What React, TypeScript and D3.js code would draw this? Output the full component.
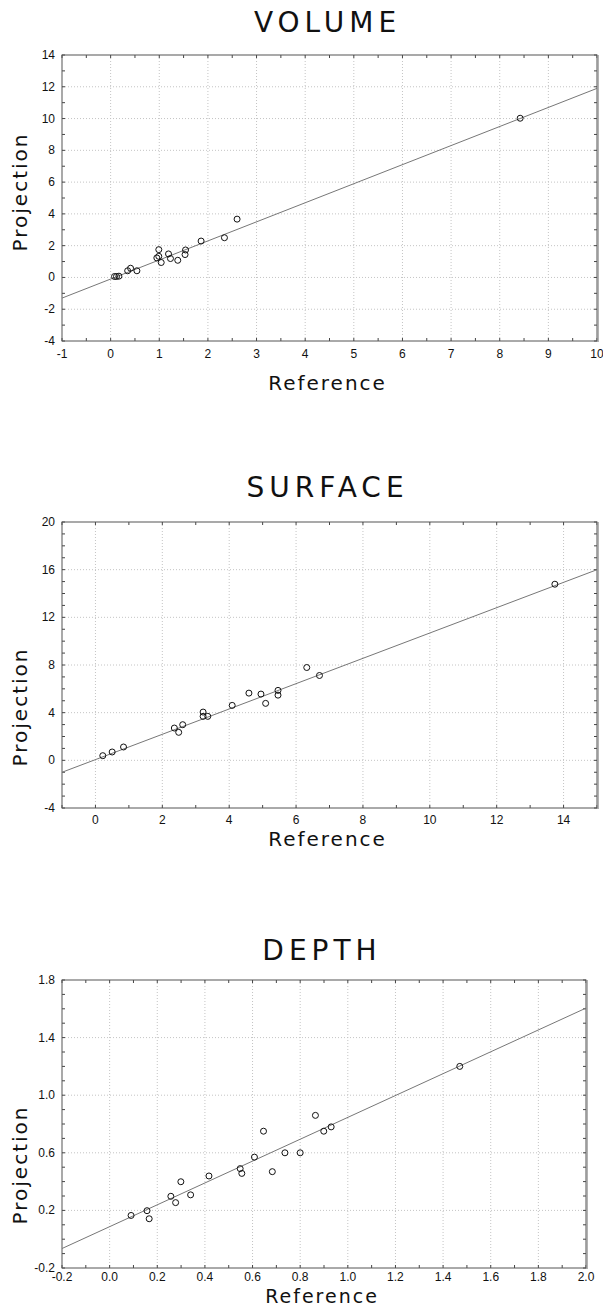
import React from "react";
import { scaleLinear, range, line } from "d3";

// VOLUME panel
const volumeReference = [0.08, 0.12, 0.17, 0.35, 0.41, 0.54, 0.99, 0.95, 0.99, 1.04, 1.19, 1.23, 1.38, 1.54, 1.53, 1.86, 2.34, 2.6, 8.42];
const volumeProjection = [0.06, 0.06, 0.08, 0.42, 0.58, 0.42, 1.75, 1.23, 1.33, 0.94, 1.48, 1.19, 1.08, 1.73, 1.44, 2.29, 2.5, 3.67, 10.02];
const volumeXTicks = [-1, 0, 1, 2, 3, 4, 5, 6, 7, 8, 9, 10];
const volumeYTicks = [-4, -2, 0, 2, 4, 6, 8, 10, 12, 14];
const volumeFit = [1.2, -0.1]; // slope, intercept

// SURFACE panel
const surfaceReference = [0.22, 0.5, 0.84, 2.36, 2.49, 2.61, 3.22, 3.22, 3.36, 4.09, 4.59, 4.95, 5.09, 5.46, 5.46, 6.32, 6.7, 13.74];
const surfaceProjection = [0.39, 0.7, 1.12, 2.71, 2.35, 2.99, 4.05, 3.69, 3.69, 4.61, 5.64, 5.56, 4.78, 5.87, 5.47, 7.79, 7.12, 14.78];
const surfaceXTicks = [0, 2, 4, 6, 8, 10, 12, 14];
const surfaceYTicks = [-4, 0, 4, 8, 12, 16, 20];
const surfaceFit = [1.0625, 0.06];

// DEPTH panel
const depthReference = [0.09, 0.157, 0.166, 0.257, 0.277, 0.299, 0.34, 0.417, 0.548, 0.555, 0.608, 0.646, 0.683, 0.736, 0.8, 0.864, 0.899, 0.93, 1.47];
const depthProjection = [0.165, 0.198, 0.142, 0.298, 0.254, 0.399, 0.308, 0.439, 0.49, 0.457, 0.57, 0.75, 0.469, 0.6, 0.6, 0.86, 0.75, 0.78, 1.2];
const depthXTicks = [-0.2, 0.0, 0.2, 0.4, 0.6, 0.8, 1.0, 1.2, 1.4, 1.6, 1.8, 2.0];
const depthYTicks = [-0.2, 0.2, 0.6, 1.0, 1.4, 1.8];
const depthFit = [0.759, 0.087];

const panels = [
  {
    title: "VOLUME", xs: volumeReference, ys: volumeProjection, fit: volumeFit,
    xDomain: [-1, 10], yDomain: [-4, 14], xTicks: volumeXTicks, yTicks: volumeYTicks,
    xMinor: 0.5, yMinor: 1, fmt: (d) => String(d),
    box: { top: 55, bottom: 341, left: 62, right: 597 },
    titleY: 32, xLabelY: 390, yLabelY: 192, tickY: 358, labelSize: 20,
  },
  {
    title: "SURFACE", xs: surfaceReference, ys: surfaceProjection, fit: surfaceFit,
    xDomain: [-1, 15], yDomain: [-4, 20], xTicks: surfaceXTicks, yTicks: surfaceYTicks,
    xMinor: 1, yMinor: 1, fmt: (d) => String(d),
    box: { top: 522, bottom: 808, left: 62, right: 597 },
    titleY: 497, xLabelY: 846, yLabelY: 707, tickY: 824, labelSize: 20,
  },
  {
    title: "DEPTH", xs: depthReference, ys: depthProjection, fit: depthFit,
    xDomain: [-0.2, 2.0], yDomain: [-0.2, 1.8], xTicks: depthXTicks, yTicks: depthYTicks,
    xMinor: 0.1, yMinor: 0.1, fmt: (d) => d.toFixed(1),
    box: { top: 980, bottom: 1268, left: 62, right: 586 },
    titleY: 960, xLabelY: 1303, yLabelY: 1165, tickY: 1281, labelSize: 19,
  },
];

function Panel({ p }) {
  const { box } = p;
  const x = scaleLinear().domain(p.xDomain).range([box.left, box.right]);
  const y = scaleLinear().domain(p.yDomain).range([box.bottom, box.top]);
  const eps = 1e-9;
  const xMinorTicks = range(p.xDomain[0], p.xDomain[1] + eps, p.xMinor);
  const yMinorTicks = range(p.yDomain[0], p.yDomain[1] + eps, p.yMinor);
  const inside = (v, dom) => v > dom[0] + eps && v < dom[1] - eps;
  const [slope, intercept] = p.fit;
  const fitPath = line()
    .x((d) => x(d))
    .y((d) => y(slope * d + intercept))(p.xDomain);
  const cx = (box.left + box.right) / 2 - 2;
  const tickLen = 3;

  return (
    <g>
      <text x={cx} y={p.titleY} textAnchor="middle" fontFamily="DejaVu Sans" fontSize={28} letterSpacing={5} fill="#111">
        {p.title}
      </text>
      {/* grid */}
      {p.xTicks.filter((t) => inside(t, p.xDomain)).map((t) => (
        <line key={"gx" + t} x1={x(t)} x2={x(t)} y1={box.top} y2={box.bottom} stroke="#c4c4c4" strokeDasharray="1,2" />
      ))}
      {p.yTicks.filter((t) => inside(t, p.yDomain)).map((t) => (
        <line key={"gy" + t} y1={y(t)} y2={y(t)} x1={box.left} x2={box.right} stroke="#c4c4c4" strokeDasharray="1,2" />
      ))}
      {/* inward ticks on all sides */}
      {xMinorTicks.map((t, i) => (
        <g key={"tx" + i} stroke="#444">
          <line x1={x(t)} x2={x(t)} y1={box.bottom} y2={box.bottom - tickLen} />
          <line x1={x(t)} x2={x(t)} y1={box.top} y2={box.top + tickLen} />
        </g>
      ))}
      {yMinorTicks.map((t, i) => (
        <g key={"ty" + i} stroke="#444">
          <line y1={y(t)} y2={y(t)} x1={box.left} x2={box.left + tickLen} />
          <line y1={y(t)} y2={y(t)} x1={box.right} x2={box.right - tickLen} />
        </g>
      ))}
      {/* frame */}
      <rect x={box.left} y={box.top} width={box.right - box.left} height={box.bottom - box.top} fill="none" stroke="#555" />
      <line x1={box.right + 1} x2={box.right + 1} y1={box.top} y2={box.bottom + 1} stroke="#999" strokeWidth={1.5} />
      {/* fit line */}
      <path d={fitPath} fill="none" stroke="#777" strokeWidth={1} />
      {/* points */}
      {p.xs.map((v, i) => (
        <circle key={"pt" + i} cx={x(v)} cy={y(p.ys[i])} r={3} fill="none" stroke="#111" strokeWidth={1} />
      ))}
      {/* tick labels */}
      {p.xTicks.map((t) => (
        <text key={"lx" + t} x={x(t)} y={p.tickY} textAnchor="middle" fontFamily="Liberation Sans" fontSize={12} fill="#111">
          {p.fmt(t)}
        </text>
      ))}
      {p.yTicks.map((t) => (
        <text key={"ly" + t} x={box.left - 7} y={y(t) + 4} textAnchor="end" fontFamily="Liberation Sans" fontSize={12} fill="#111">
          {p.fmt(t)}
        </text>
      ))}
      <text x={cx} y={p.xLabelY} textAnchor="middle" fontFamily="DejaVu Sans" fontSize={p.labelSize} letterSpacing={2} fill="#111">
        Reference
      </text>
      <text transform={`translate(27,${p.yLabelY}) rotate(-90)`} textAnchor="middle" fontFamily="DejaVu Sans" fontSize={20} letterSpacing={2} fill="#111">
        Projection
      </text>
    </g>
  );
}

export default function App() {
  return (
    <svg width={603} height={1306} style={{ position: "absolute", left: 0, top: 0, background: "#fff" }}>
      <rect width={603} height={1306} fill="#fff" />
      {panels.map((p) => (
        <Panel key={p.title} p={p} />
      ))}
    </svg>
  );
}
